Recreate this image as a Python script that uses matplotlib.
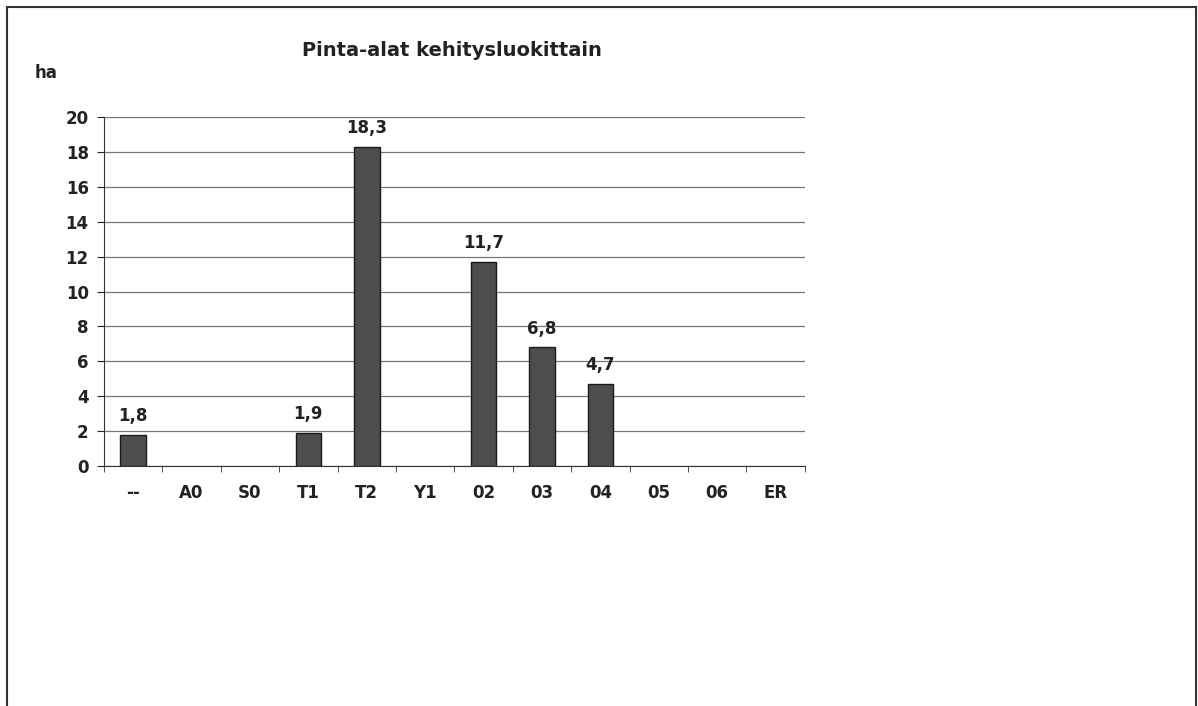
import matplotlib
matplotlib.use('Agg')
import matplotlib.pyplot as plt
import numpy as np
from matplotlib.patches import Rectangle

plt.rcParams['font.family'] = 'DejaVu Sans'

# Data
categories = ['--', 'A0', 'S0', 'T1', 'T2', 'Y1', '02', '03', '04', '05', '06', 'ER']
values = [1.8, 0, 0, 1.9, 18.3, 0, 11.7, 6.8, 4.7, 0, 0, 0]
title = 'Pinta-alat kehitysluokittain'
unit = 'ha'

fig = plt.figure(figsize=(11.98, 7.06), dpi=100)
ax = fig.add_axes([0.0868, 0.340, 0.585, 0.494])

x = np.arange(len(categories))
edges = ['#1a1a1a' if v > 0 else 'none' for v in values]
ax.bar(x, values, width=0.44, color='#4d4d4d', edgecolor=edges, linewidth=1.0, zorder=3)

for xi, v in zip(x, values):
    if v > 0:
        ax.text(xi, v + 0.55, f'{v:.1f}'.replace('.', ','), ha='center', va='bottom',
                fontsize=12, fontweight='bold', color='#222222')

ax.set_xlim(-0.5, len(categories) - 0.5)
ax.set_ylim(0, 20)
ax.set_yticks(np.arange(0, 21, 2))
ax.set_xticks(x)
ax.set_xticklabels(categories)
ax.set_xticks(np.arange(-0.5, len(categories), 1), minor=True)
ax.tick_params(axis='x', which='major', length=0, pad=13, labelsize=12, colors='#222222')
ax.tick_params(axis='x', which='minor', length=4, direction='out', color='#333333')
ax.tick_params(axis='y', length=5, direction='out', labelsize=12, colors='#222222', pad=6)
for lab in ax.get_xticklabels() + ax.get_yticklabels():
    lab.set_fontweight('bold')

ax.yaxis.grid(True, color='#777777', linewidth=0.9, zorder=0)
ax.spines['top'].set_visible(False)
ax.spines['right'].set_visible(False)
ax.spines['left'].set_color('#333333')
ax.spines['bottom'].set_color('#333333')

fig.text(0.377, 0.929, title, ha='center', va='center', fontsize=14, fontweight='bold', color='#222222')
fig.text(0.029, 0.897, unit, ha='left', va='center', fontsize=12, fontweight='bold', color='#222222')

# outer frame of the chart
fig.patches.append(Rectangle((0.0055, -0.01), 0.9925, 0.9995, transform=fig.transFigure,
                             fill=False, edgecolor='#333333', linewidth=1.5))

fig.savefig('out.png', dpi=100)
